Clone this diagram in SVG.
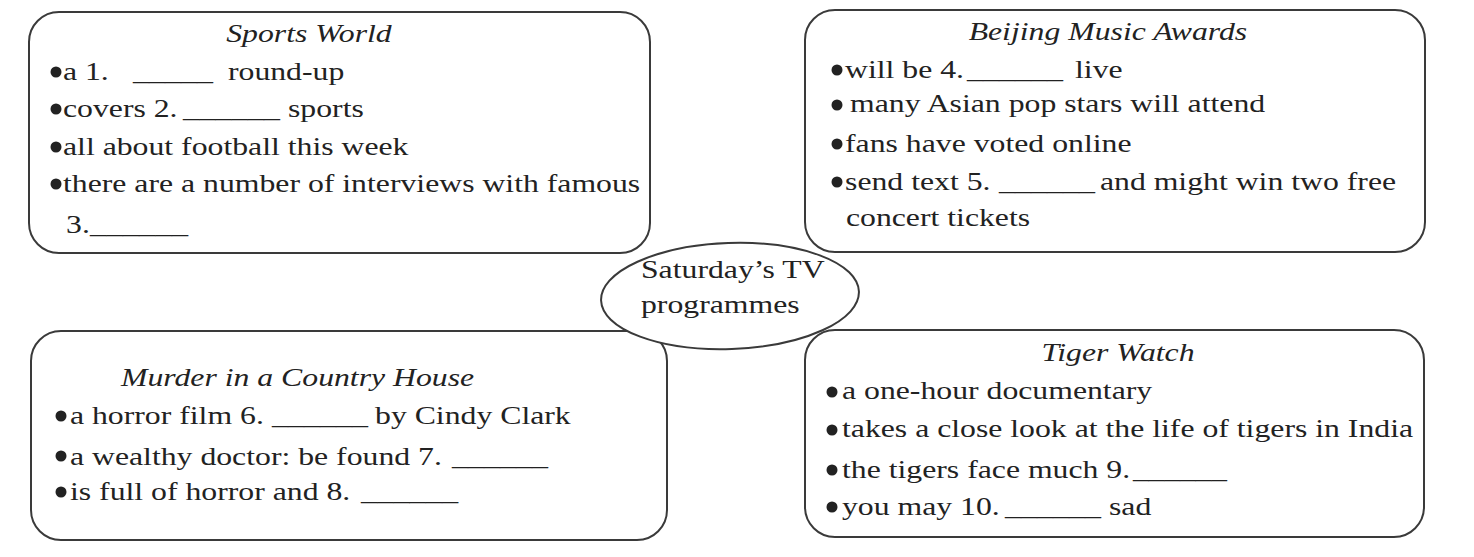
<svg xmlns="http://www.w3.org/2000/svg" width="1474" height="557" viewBox="0 0 1474 557">
<style>
.box{fill:#fff;stroke:#3a3a3a;stroke-width:2}
.oval{fill:#fff;stroke:#3a3a3a;stroke-width:2}
text{font-family:"Liberation Serif","Times New Roman",serif;font-size:25px;fill:#222}
.ti{font-style:italic;text-anchor:middle}
.dot{fill:#222}
</style>
<rect width="1474" height="557" fill="#fff"/>
<g id="connectors"/>
<g id="sports-world">
<rect class="box" x="29" y="12" width="621" height="241" rx="30"/>
<circle class="dot" cx="56" cy="72" r="5.5"/>
<circle class="dot" cx="56" cy="109" r="5.5"/>
<circle class="dot" cx="56" cy="147" r="5.5"/>
<circle class="dot" cx="56" cy="184" r="5.5"/>
<g transform="scale(1.27 1)">
<text class="ti" x="243.3" y="42">Sports World</text>
<text x="49.6" y="80">a 1.</text>
<text x="104.7" y="80" textLength="63" lengthAdjust="spacingAndGlyphs">_____</text>
<text x="179.5" y="80">round-up</text>
<text x="49.6" y="117">covers 2.</text>
<text x="144.1" y="117" textLength="76.4" lengthAdjust="spacingAndGlyphs">______</text>
<text x="226.8" y="117">sports</text>
<text x="49.6" y="155">all about football this week</text>
<text x="49.6" y="192">there are a number of interviews with famous</text>
<text x="52" y="233">3.</text>
<text x="70.9" y="233" textLength="77.2" lengthAdjust="spacingAndGlyphs">______</text>
</g>
</g>
<g id="beijing-music-awards">
<rect class="box" x="805" y="10" width="620" height="242" rx="30"/>
<circle class="dot" cx="837" cy="70" r="5.5"/>
<circle class="dot" cx="837" cy="105" r="5.5"/>
<circle class="dot" cx="837" cy="144" r="5.5"/>
<circle class="dot" cx="837" cy="182" r="5.5"/>
<g transform="scale(1.27 1)">
<text class="ti" x="872.4" y="40">Beijing Music Awards</text>
<text x="665.4" y="78">will be 4.</text>
<text x="761.4" y="78" textLength="75.6" lengthAdjust="spacingAndGlyphs">______</text>
<text x="846.5" y="78">live</text>
<text x="669.3" y="112">many Asian pop stars will attend</text>
<text x="665.4" y="152">fans have voted online</text>
<text x="665.4" y="190">send text 5.</text>
<text x="786.6" y="190" textLength="75.6" lengthAdjust="spacingAndGlyphs">______</text>
<text x="866.1" y="190">and might win two free</text>
<text x="666.1" y="226">concert tickets</text>
</g>
</g>
<g id="murder-in-a-country-house">
<rect class="box" x="31" y="331" width="636" height="209" rx="30"/>
<circle class="dot" cx="61" cy="416" r="5.5"/>
<circle class="dot" cx="61" cy="456" r="5.5"/>
<circle class="dot" cx="61" cy="492" r="5.5"/>
<g transform="scale(1.27 1)">
<text class="ti" x="234.3" y="386">Murder in a Country House</text>
<text x="55.1" y="424">a horror film 6.</text>
<text x="214.2" y="424" textLength="75.6" lengthAdjust="spacingAndGlyphs">______</text>
<text x="295.3" y="424">by Cindy Clark</text>
<text x="55.1" y="465">a wealthy doctor: be found 7.</text>
<text x="355.9" y="465" textLength="75.6" lengthAdjust="spacingAndGlyphs">______</text>
<text x="55.1" y="500">is full of horror and 8.</text>
<text x="284.3" y="500" textLength="76.4" lengthAdjust="spacingAndGlyphs">______</text>
</g>
</g>
<g id="tiger-watch">
<rect class="box" x="805" y="330" width="619" height="207" rx="30"/>
<circle class="dot" cx="832" cy="392" r="5.5"/>
<circle class="dot" cx="832" cy="430" r="5.5"/>
<circle class="dot" cx="832" cy="470" r="5.5"/>
<circle class="dot" cx="832" cy="507" r="5.5"/>
<g transform="scale(1.27 1)">
<text class="ti" x="880.3" y="361">Tiger Watch</text>
<text x="663" y="399">a one-hour documentary</text>
<text x="663" y="437">takes a close look at the life of tigers in India</text>
<text x="663" y="478">the tigers face much 9.</text>
<text x="892.1" y="478" textLength="74" lengthAdjust="spacingAndGlyphs">______</text>
<text x="663" y="515">you may 10.</text>
<text x="791.3" y="515" textLength="75.6" lengthAdjust="spacingAndGlyphs">______</text>
<text x="873.2" y="515">sad</text>
</g>
</g>
<g id="saturdays-tv-programmes">
<ellipse class="oval" cx="730" cy="296" rx="129" ry="53" transform="rotate(-2 730 296)"/>
<g transform="scale(1.27 1)">
<text x="504.7" y="278">Saturday’s TV</text>
<text x="504.7" y="313">programmes</text>
</g>
</g>
</svg>
